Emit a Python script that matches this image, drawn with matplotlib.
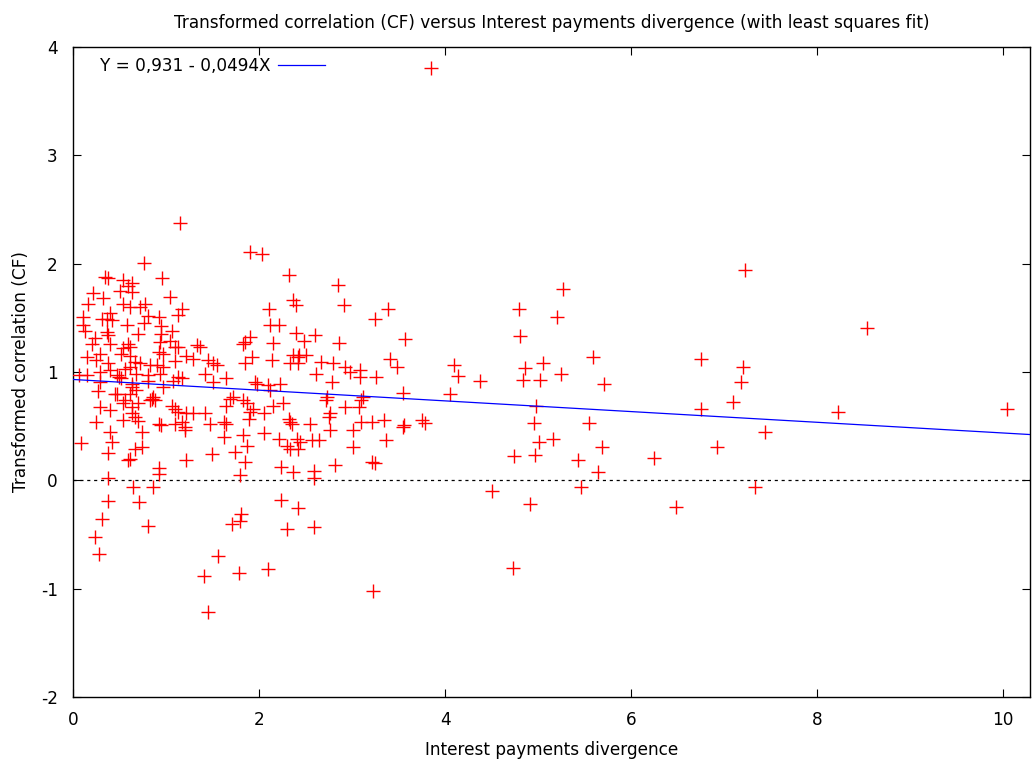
import matplotlib
matplotlib.use("Agg")
import matplotlib.pyplot as plt
import numpy as np

# Interest payments divergence (x) and transformed correlation CF (y)
divergence = [
    1.15, 1.90, 2.03, 0.76, 0.34, 0.38, 0.54, 0.63, 0.59, 0.96,
    0.51, 0.63, 0.21, 0.32, 1.04, 0.16, 0.54, 0.61, 0.77, 0.72,
    1.17, 1.13, 0.81, 0.92, 0.40, 0.36, 0.31, 0.42, 0.11, 0.11,
    0.58, 0.76, 0.95, 1.06, 0.36, 0.38, 0.70, 0.24, 0.20, 0.40,
    0.59, 0.61, 0.94, 1.04, 1.10, 1.13, 0.54, 1.33, 1.37, 1.90,
    1.83, 0.92, 0.97, 0.29, 0.52, 0.61, 1.22, 1.29, 1.92, 0.15,
    0.25, 0.38, 0.67, 0.72, 1.10, 1.45, 1.51, 1.55, 1.85, 0.61,
    0.83, 0.90, 0.97, 0.40, 0.56, 0.06, 0.15, 0.29, 0.47, 0.49,
    0.52, 0.68, 0.81, 0.94, 1.42, 1.13, 1.17, 1.65, 1.08, 1.51,
    1.96, 0.29, 0.63, 0.81, 0.97, 0.27, 0.45, 0.61, 0.86, 0.95,
    0.13, 0.47, 0.68, 0.63, 0.85, 0.88, 0.83, 0.56, 0.54, 0.70,
    0.29, 0.40, 0.63, 1.06, 1.10, 1.13, 1.22, 1.29, 1.42, 0.63,
    0.67, 0.70, 0.54, 0.25, 0.92, 0.95, 1.10, 1.20, 1.17, 1.47,
    1.62, 1.65, 1.69, 1.72, 1.65, 1.83, 1.87, 1.94, 1.90, 1.89,
    0.40, 0.74, 1.20, 1.83, 1.62, 0.42, 0.09, 1.87, 0.74, 0.67,
    0.38, 1.49, 1.74, 0.59, 0.61, 1.22, 1.85, 0.92, 0.92, 1.80,
    0.38, 0.65, 0.86, 0.38, 0.71, 0.31, 0.81, 1.71, 1.80, 1.81,
    0.24, 0.28, 1.56, 1.41, 1.78, 1.45,
    2.32, 2.85, 2.36, 2.40, 2.91, 2.11, 3.39, 3.25, 2.12, 2.21,
    2.40, 2.60, 1.85, 2.15, 2.48, 2.86, 3.57, 2.37, 2.43, 2.51,
    2.42, 2.14, 2.33, 2.42, 2.67, 2.80, 2.92, 2.98, 3.09, 3.09,
    3.41, 3.48, 2.61, 2.78, 3.26, 2.23, 1.98, 2.10, 2.12, 3.55,
    2.73, 3.12, 3.10, 2.72, 2.15, 2.26, 2.92, 3.08, 2.76, 2.75,
    2.05, 2.32, 2.33, 2.35, 2.55, 3.10, 3.21, 3.34, 3.55, 3.56,
    3.75, 3.78, 2.76, 3.01, 2.05, 2.21, 2.41, 2.44, 2.57, 2.64,
    2.30, 2.33, 2.42, 3.36, 3.01, 2.24, 2.37, 2.59, 2.59, 2.82,
    3.22, 3.25, 2.24, 2.42, 2.30, 2.59, 2.10, 3.23,
    4.10, 4.14, 4.38, 4.05, 4.79, 4.81, 5.27, 5.20, 4.86, 5.05,
    4.84, 5.02, 5.25, 5.59, 5.71, 4.98, 4.96, 5.55, 5.01, 5.16,
    5.69, 4.74, 4.97, 5.43, 5.64, 4.50, 4.91, 5.46, 6.25, 6.48,
    6.75, 6.75, 6.92, 7.10, 7.18, 7.20, 7.23, 7.33, 7.44, 4.73,
    3.85, 8.54, 8.23, 10.04,
]
correlation = [
    2.38, 2.11, 2.09, 2.01, 1.88, 1.87, 1.85, 1.82, 1.79, 1.87,
    1.75, 1.74, 1.73, 1.68, 1.69, 1.63, 1.63, 1.60, 1.63, 1.60,
    1.58, 1.53, 1.52, 1.51, 1.54, 1.49, 1.49, 1.48, 1.51, 1.43,
    1.43, 1.45, 1.42, 1.38, 1.37, 1.34, 1.35, 1.31, 1.26, 1.26,
    1.26, 1.23, 1.28, 1.29, 1.23, 1.23, 1.22, 1.25, 1.23, 1.32,
    1.26, 1.18, 1.17, 1.17, 1.17, 1.15, 1.15, 1.12, 1.14, 1.14,
    1.11, 1.08, 1.09, 1.08, 1.10, 1.11, 1.08, 1.06, 1.08, 1.05,
    1.06, 1.06, 1.05, 1.02, 1.03, 0.97, 0.97, 1.00, 0.97, 0.95,
    0.94, 0.98, 0.97, 0.98, 0.98, 0.95, 0.94, 0.94, 0.92, 0.91,
    0.91, 0.91, 0.89, 0.92, 0.86, 0.82, 0.80, 0.80, 0.77, 1.35,
    1.38, 0.80, 0.83, 0.86, 0.75, 0.74, 0.74, 0.74, 0.71, 0.71,
    0.68, 0.65, 0.68, 0.69, 0.66, 0.63, 0.62, 0.62, 0.62, 0.62,
    0.58, 0.55, 0.56, 0.54, 0.52, 0.51, 0.52, 0.49, 0.54, 0.52,
    0.54, 0.52, 0.75, 0.77, 0.69, 0.74, 0.71, 0.66, 0.63, 0.57,
    0.45, 0.45, 0.46, 0.42, 0.40, 0.35, 0.34, 0.32, 0.31, 0.29,
    0.25, 0.24, 0.26, 0.19, 0.20, 0.19, 0.17, 0.11, 0.06, 0.05,
    0.02, -0.06, -0.06, -0.19, -0.20, -0.36, -0.42, -0.40, -0.38, -0.31,
    -0.52, -0.68, -0.70, -0.88, -0.86, -1.22,
    1.90, 1.80, 1.66, 1.62, 1.62, 1.58, 1.58, 1.49, 1.43, 1.43,
    1.36, 1.34, 1.28, 1.27, 1.29, 1.27, 1.30, 1.16, 1.16, 1.16,
    1.14, 1.11, 1.08, 1.08, 1.09, 1.08, 1.05, 1.00, 1.02, 0.95,
    1.12, 1.05, 0.98, 0.91, 0.95, 0.89, 0.89, 0.88, 0.83, 0.81,
    0.77, 0.77, 0.74, 0.74, 0.69, 0.71, 0.68, 0.68, 0.62, 0.58,
    0.62, 0.57, 0.54, 0.52, 0.52, 0.54, 0.54, 0.56, 0.49, 0.51,
    0.56, 0.53, 0.46, 0.46, 0.44, 0.38, 0.38, 0.35, 0.37, 0.37,
    0.32, 0.29, 0.29, 0.37, 0.31, 0.12, 0.08, 0.09, 0.02, 0.14,
    0.17, 0.16, -0.18, -0.26, -0.45, -0.43, -0.82, -1.02,
    1.06, 0.96, 0.92, 0.80, 1.58, 1.33, 1.77, 1.51, 1.04, 1.08,
    0.93, 0.93, 0.98, 1.14, 0.89, 0.69, 0.53, 0.53, 0.35, 0.38,
    0.31, 0.22, 0.23, 0.19, 0.08, -0.10, -0.22, -0.06, 0.21, -0.25,
    1.12, 0.66, 0.31, 0.72, 0.91, 1.05, 1.94, -0.06, 0.45, -0.81,
    3.81, 1.41, 0.63, 0.66,
]

# Least squares fit coefficients
intercept = 0.931
slope = -0.0494
fit_label = "Y = 0,931 - 0,0494X"

title = "Transformed correlation (CF) versus Interest payments divergence (with least squares fit)"
x_label = "Interest payments divergence"
y_label = "Transformed correlation (CF)"
x_ticks = [0, 2, 4, 6, 8, 10]
y_ticks = [-2, -1, 0, 1, 2, 3, 4]

plt.rcParams["font.family"] = ["DejaVu Sans"]
plt.rcParams["axes.unicode_minus"] = False
fs = 12.2

fig = plt.figure(figsize=(10.36, 7.67), dpi=100)
ax = fig.add_axes([0.0705, 0.0913, 0.9237, 0.8474])

x_max = 10.29
ax.set_xlim(0, x_max)
ax.set_ylim(-2, 4)

# zero reference line
ax.axhline(0, color="black", lw=0.9, linestyle=(0, (2.5, 3)), zorder=1)

# observations
ax.plot(divergence, correlation, linestyle="none", marker="+",
        color="#ff0000", markersize=10, markeredgewidth=1.0, zorder=3)

# fitted line
xs = np.array([0, x_max])
ax.plot(xs, intercept + slope * xs, color="#0000ff", lw=0.9,
        label=fit_label, zorder=4)

ax.legend(loc="upper left", markerfirst=False, frameon=False,
          fontsize=fs, handlelength=2.8, handletextpad=0.4,
          borderaxespad=0.2, bbox_to_anchor=(0.018, 1.0))

ax.set_xticks(x_ticks)
ax.set_yticks(y_ticks)
ax.tick_params(direction="in", length=6, width=0.8, top=True, right=True,
               labelsize=fs)
ax.tick_params(axis="y", pad=11)
ax.tick_params(axis="x", pad=10)
for s in ax.spines.values():
    s.set_linewidth(1.0)

ax.set_title(title, fontsize=fs, pad=14)
ax.set_xlabel(x_label, fontsize=fs, labelpad=9)
ax.set_ylabel(y_label, fontsize=fs, labelpad=8)

fig.savefig("out.png", dpi=100)
